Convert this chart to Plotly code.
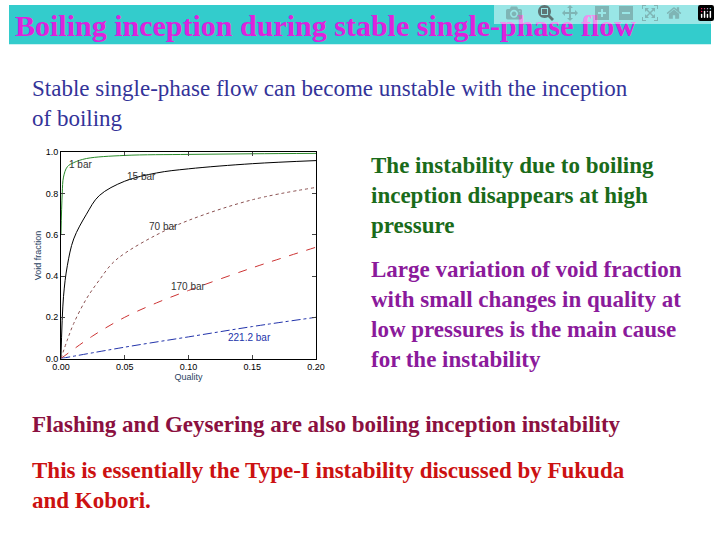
import plotly.graph_objects as go

x1 = [0, 0.001, 0.002, 0.005, 0.01, 0.02, 0.05, 0.1, 0.15, 0.2]
y1 = [0.6, 0.8, 0.88, 0.93, 0.95, 0.97, 0.985, 0.99, 0.993, 0.995]
x15 = [0, 0.002, 0.005, 0.01, 0.02, 0.03, 0.05, 0.075, 0.1, 0.15, 0.2]
y15 = [0, 0.3, 0.45, 0.58, 0.7, 0.79, 0.86, 0.9, 0.92, 0.945, 0.96]
x70 = [0, 0.005, 0.01, 0.02, 0.03, 0.04, 0.05, 0.075, 0.1, 0.15, 0.2]
y70 = [0, 0.09, 0.17, 0.29, 0.38, 0.46, 0.51, 0.6, 0.67, 0.77, 0.83]
x170 = [0, 0.025, 0.05, 0.075, 0.1, 0.15, 0.2]
y170 = [0, 0.11, 0.2, 0.27, 0.33, 0.44, 0.54]
x221 = [0, 0.05, 0.1, 0.15, 0.2]
y221 = [0, 0.055, 0.105, 0.155, 0.2]
labels = ["1 bar", "15 bar", "70 bar", "170 bar", "221.2 bar"]
lab_x = [0.015, 0.063, 0.08, 0.1, 0.148]
lab_y = [0.94, 0.885, 0.64, 0.35, 0.1]

series = [(x1, y1, "#2a8a2a", "solid"), (x15, y15, "black", "solid"),
          (x70, y70, "#8a5050", "dot"), (x170, y170, "#cc3333", "dash"),
          (x221, y221, "#2233aa", "dashdot")]
lab_colors = ["#333", "#333", "#333", "#333", "#2233aa"]

fig = go.Figure()
for x, y, c, d in series:
    fig.add_trace(go.Scatter(x=x, y=y, mode="lines", line=dict(color=c, width=1, dash=d, shape="spline"), showlegend=False))
for t, xx, yy, c in zip(labels, lab_x, lab_y, lab_colors):
    fig.add_annotation(x=xx, y=yy, text=t, showarrow=False, font=dict(family="Arial", size=10, color=c))

ax = dict(showline=True, linecolor="black", mirror="ticks", ticks="inside", ticklen=4,
          showgrid=False, zeroline=False, tickfont=dict(family="Arial", size=9, color="black"))
fig.update_xaxes(**ax, range=[0, 0.2], dtick=0.05, tickformat=".2f", domain=[0.074, 0.4375],
                 title=dict(text="Quality", font=dict(family="Arial", size=9), standoff=2))
fig.update_yaxes(**ax, range=[0, 1.0], dtick=0.2, tickformat=".1f", domain=[0.333, 0.722],
                 title=dict(text="Void fraction", font=dict(family="Arial", size=9), standoff=2))

S = "Liberation Serif"
fig.add_shape(type="rect", xref="paper", yref="paper", x0=0, x1=1, y0=1 - 40/540, y1=1,
              fillcolor="#33CCCC", line_width=0, layer="below")
def txt(t, x, y, size, color):
    fig.add_annotation(xref="paper", yref="paper", x=x, y=1 - y/540, text=t, showarrow=False,
                       xanchor="left", yanchor="top", align="left",
                       font=dict(family=S, size=size, color=color))
txt("<b>Boiling inception during stable single-phase flow</b>", 4/720, 2, 30, "#DD22DD")
txt("Stable single-phase flow can become unstable with the inception<br>of boiling", 22/720, 70, 23, "#333399")
txt("<b>The instability due to boiling<br>inception disappears at high<br>pressure</b>", 369/720, 149, 23, "#1A6B1A")
txt("<b>Large variation of void fraction<br>with small changes in quality at<br>low pressures is the main cause<br>for the instability</b>", 369/720, 255, 23, "#8B1A9B")
txt("<b>Flashing and Geysering are also boiling inception instability</b>", 22/720, 413, 23, "#8B1040")
txt("<b>This is essentially the Type-I instability discussed by Fukuda<br>and Kobori.</b>", 22/720, 459, 23, "#CC1111")

fig.update_layout(width=720, height=540, margin=dict(l=0, r=0, t=0, b=0),
                  paper_bgcolor="white", plot_bgcolor="white")
fig.write_html("out.html", post_script="document.body.style.margin='0';document.body.style.padding='0';")
